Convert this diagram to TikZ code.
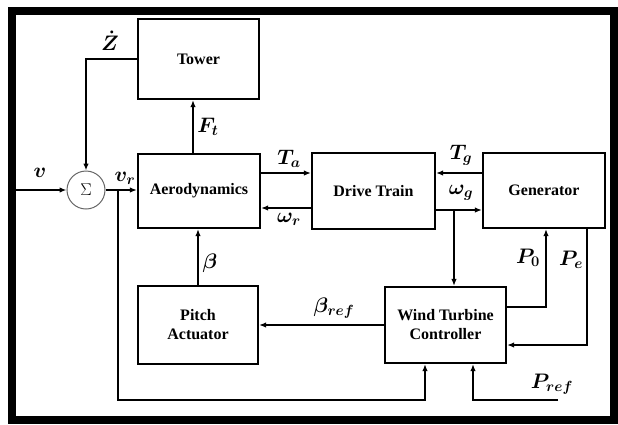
\RequirePackage{fix-cm}
\documentclass[tikz,border=0pt]{standalone}
\usepackage{amsmath}
\usepackage{amssymb}
\usepackage{fontspec}
\setmainfont{Liberation Serif}
\usetikzlibrary{arrows.meta}

\begin{document}
\begin{tikzpicture}[x=1pt, y=-1pt,
    block/.style={draw, line width=2.2pt, align=center, inner sep=0pt,
        font=\bfseries\fontsize{16}{17}\selectfont},
    sig/.style={line width=1.6pt, -{Latex[length=7pt,width=5.5pt]}},
    lbl/.style={font=\fontsize{21}{22}\selectfont, inner sep=1pt}]
    \useasboundingbox (0,0) rectangle (618,424);
    \draw[line width=8pt] (12,10.5) rectangle (614,420);

    % blocks
    \node[block, minimum width=121pt, minimum height=80pt] (tower) at (198.5,59) {Tower};
    \node[block, minimum width=122pt, minimum height=74pt] (aero) at (199,191) {Aerodynamics};
    \node[block, minimum width=123pt, minimum height=76pt] (drive) at (373.5,191) {Drive Train};
    \node[block, minimum width=122pt, minimum height=75pt] (gen) at (544,190.5) {Generator};
    \node[block, minimum width=120pt, minimum height=78pt] (pitch) at (198,325) {Pitch\\[2pt]Actuator};
    \node[block, minimum width=121pt, minimum height=76pt] (ctrl) at (445.5,325) {Wind Turbine\\[2pt]Controller};
    \node[draw=black!60, line width=1pt, circle, minimum size=38pt, inner sep=0pt,
        font=\fontsize{17}{18}\selectfont] (sum) at (86,190) {$\Sigma$};

    % points where lines start or branch
    \coordinate (vin) at (16,190);
    \coordinate (vr) at (118,190);
    \coordinate (wg) at (454,210);
    \coordinate (pref) at (558,400);

    % signals
    \draw[sig] (vin) -- (sum.west);
    \draw[sig] (sum.east) -- (sum.east -| aero.west);
    \draw[sig] (tower.west) -| (sum.north);
    \draw[sig] ([xshift=-6pt]aero.north) -- ([xshift=-6pt]aero.north |- tower.south);
    \draw[sig] ([yshift=18pt]aero.east) -- ([yshift=18pt]aero.east -| drive.west);
    \draw[sig] ([yshift=-17pt]drive.west) -- ([yshift=-17pt]drive.west -| aero.east);
    \draw[sig] ([yshift=17.5pt]gen.west) -- ([yshift=17.5pt]gen.west -| drive.east);
    \draw[sig] ([yshift=-19pt]drive.east) -- ([yshift=-19pt]drive.east -| gen.west);
    \draw[sig] (wg) -- (wg |- ctrl.north);
    \draw[sig] ([yshift=18pt]ctrl.east) -| ([xshift=2pt]gen.south);
    \draw[sig] ([xshift=43pt]gen.south) |- ([yshift=-20pt]ctrl.east);
    \draw[sig] (pitch.north) -- (pitch.north |- aero.south);
    \draw[sig] (ctrl.west) -- (ctrl.west -| pitch.east);
    \draw[sig] (vr) -- (vr |- pref) -| ([xshift=-20.5pt]ctrl.south);
    \draw[sig] (pref) -| ([xshift=27.5pt]ctrl.south);

    % labels
    \node[lbl] (lv) at (40,173) {$\boldsymbol{v}$};
    \node[lbl] (lz) at (110,41) {$\boldsymbol{\dot{Z}}$};
    \node[lbl] (lvr) at (125,178) {$\boldsymbol{v_r}$};
    \node[lbl] (lft) at (208,127) {$\boldsymbol{F_t}$};
    \node[lbl] (lta) at (289,159) {$\boldsymbol{T_a}$};
    \node[lbl] (lwr) at (289,219) {$\boldsymbol{\omega_r}$};
    \node[lbl] (ltg) at (461,155) {$\boldsymbol{T_g}$};
    \node[lbl] (lwg) at (461,193) {$\boldsymbol{\omega_g}$};
    \node[lbl] (lb) at (210,263) {$\boldsymbol{\beta}$};
    \node[lbl] (lbref) at (334,308) {$\boldsymbol{\beta_{ref}}$};
    \node[lbl] (lp0) at (528,258) {$\boldsymbol{P_0}$};
    \node[lbl] (lpe) at (571,260) {$\boldsymbol{P_e}$};
    \node[lbl] (lpref) at (552,384) {$\boldsymbol{P_{ref}}$};
\end{tikzpicture}
\end{document}
